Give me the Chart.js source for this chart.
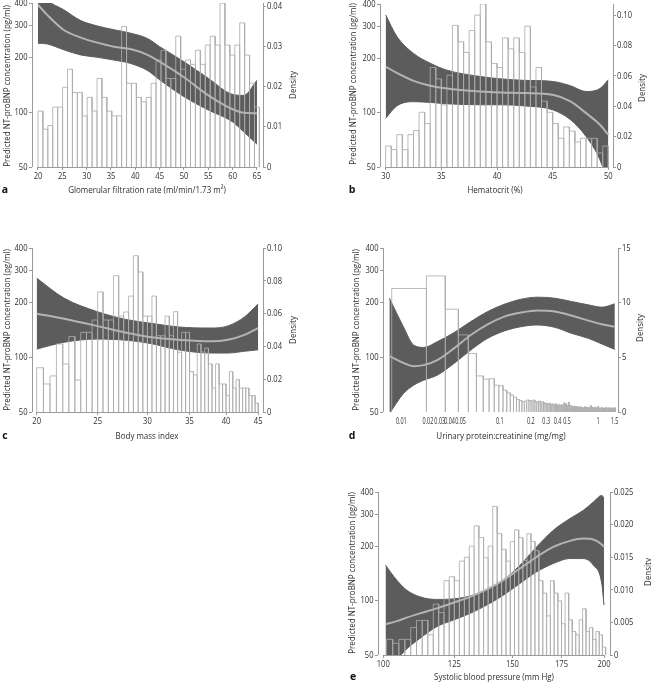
<!DOCTYPE html>
<html><head><meta charset="utf-8">
<script src="https://cdn.jsdelivr.net/npm/chart.js@4.4.1/dist/chart.umd.min.js"></script>
<style>
html,body{margin:0;padding:0;background:#fff;}
#wrap{position:relative;width:651px;height:684px;overflow:hidden;background:#fff;}
#wrap canvas{position:absolute;}
</style></head><body><div id="wrap"></div>
<script>
// ---------- shared tick data ----------
const leftTickValues = [50, 100, 200, 300, 400];
const leftTickLabels = ['50', '100', '200', '300', '400'];

// ---------- panel a: GFR ----------
const gfrX     = [20, 21.9, 25.3, 28.8, 32.2, 35.6, 39, 42.5, 45, 50, 55, 60, 62.3, 65];
const gfrFit   = [391, 344, 284, 258, 242, 230, 223, 207, 190, 156, 124, 104, 99.4, 98.7];
const gfrUpper = [480, 415, 367, 320, 299, 285, 273, 255, 230, 190, 154, 125.5, 124, 150];
const gfrLower = [240, 238, 221, 207, 201, 194, 186, 170, 151, 122, 103, 88.6, 78, 66.8];
const gfrBinStart = 20, gfrBinWidth = 1.011;
const gfrDensity = [0.0139,0.0094,0.0103,0.0149,0.0149,0.0198,0.0243,0.0185,0.0185,0.0127,
  0.0173,0.0139,0.0220,0.0173,0.0139,0.0127,0.0127,0.0349,0.0208,0.0208,
  0.0173,0.0162,0.0173,0.0208,0.0266,0.0290,0.0220,0.0220,0.0325,0.0243,
  0.0266,0.0255,0.0290,0.0255,0.0303,0.0325,0.0303,0.0407,0.0303,0.0278,
  0.0303,0.0358,0.0278,0.0208,0.0149];
const gfrTicks = [20, 25, 30, 35, 40, 45, 50, 55, 60, 65];
const gfrTickLabels = ['20','25','30','35','40','45','50','55','60','65'];
const gfrDensTicks = [0, 0.01, 0.02, 0.03, 0.04];
const gfrDensLabels = ['0', '0.01', '0.02', '0.03', '0.04'];

// ---------- panel b: hematocrit ----------
const hctX     = [30, 31, 32.5, 34, 35.5, 38.5, 40.3, 42.5, 45, 46.6, 48, 49.25, 50];
const hctFit   = [180, 166, 150, 141, 136, 131, 129.4, 128.5, 125.6, 115.4, 99.4, 85.7, 75.5];
const hctUpper = [348, 265, 213, 188, 172, 158.6, 154, 151, 149, 141, 131, 136, 152];
const hctLower = [93, 109, 115, 114, 112, 110.6, 110.6, 109, 103.7, 91.4, 73.8, 54.8, 40];
const hctBinStart = 30, hctBinWidth = 0.5;
const hctDensity = [0.0138,0.0114,0.0213,0.0114,0.0213,0.0240,0.0360,0.0286,0.0655,0.0580,
  0.0409,0.0604,0.0932,0.0824,0.0754,0.0899,0.1000,0.1073,0.0824,0.0681,
  0.0655,0.0850,0.0778,0.0850,0.0754,0.0927,0.0527,0.0655,0.0433,0.0360,
  0.0286,0.0189,0.0264,0.0237,0.0165,0.0189,0.0189,0.0189,0.0092,0.0138];
const hctTicks = [30, 35, 40, 45, 50];
const hctTickLabels = ['30','35','40','45','50'];
const hctDensTicks = [0, 0.02, 0.04, 0.06, 0.08, 0.10];
const hctDensLabels = ['0','0.02','0.04','0.06','0.08','0.10'];

// ---------- panel c: BMI ----------
const bmiX     = [20, 22.1, 24.9, 27.9, 30.4, 33.6, 37.9, 40.3, 42.8, 45];
const bmiFit   = [174, 163, 149, 136, 129, 125, 122.5, 125, 133, 145];
const bmiUpper = [273, 212, 179, 161, 154, 147, 145, 149, 167, 197];
const bmiLower = [111, 121, 126, 124, 119, 110, 105.6, 105.6, 108, 110];
const bmiBinStart = 20, bmiBinWidth = 0.5;
const bmiDensity = [0.0270,0.0171,0.0220,0.0415,0.0293,0.0461,0.0195,0.0486,0.0486,0.0561,
  0.0732,0.0561,0.0561,0.0831,0.0585,0.0610,0.0707,0.0953,0.0854,0.0585,
  0.0585,0.0707,0.0465,0.0465,0.0585,0.0465,0.0612,0.0364,0.0486,0.0486,
  0.0246,0.0226,0.0415,0.0366,0.0390,0.0293,0.0146,0.0293,0.0171,0.0171,
  0.0100,0.0246,0.0146,0.0197,0.0146,0.0146,0.0146,0.0100,0.0100,0.0055];
const bmiTicks = [20, 25, 30, 35, 40, 45];
const bmiTickLabels = ['20','25','30','35','40','45'];
const bmiDensTicks = [0, 0.02, 0.04, 0.06, 0.08, 0.10];
const bmiDensLabels = ['0','0.02','0.04','0.06','0.08','0.10'];

// ---------- panel d: urinary protein:creatinine ----------
const upcX     = [0.00757, 0.0105, 0.01334, 0.01689, 0.0232, 0.0343, 0.0508, 0.0754, 0.1113, 0.1651, 0.2446, 0.3624, 0.536, 0.795, 1.092, 1.477];
const upcFit   = [101.6, 93.3, 89.4, 90.6, 96.5, 112, 132.7, 152, 167.6, 176.4, 181, 178.7, 169.8, 159.3, 152, 147.6];
const upcUpper = [211.7, 147.6, 116.9, 113.4, 121.9, 136.7, 157.3, 178.7, 196, 209, 214.4, 211.7, 203, 194.5, 188.8, 197];
const upcLower = [49, 63.1, 70.2, 74.8, 79.8, 92.5, 109.7, 127.2, 139.7, 147.6, 150.7, 146.3, 135.6, 127.2, 118.4, 110.6];
const upcBinStart = 0.008, upcBinWidth = 0.01;
const upcDensity = [11.3,12.45,9.4,7.05,5.35,3.3,3.0,3.05,2.45,2.4,
  2.0,1.75,1.55,1.35,1.15,1.05,0.95,1.0,1.1,1.05,
  1.0,1.1,0.95,0.9,1.0,0.8,0.95,0.85,0.75,0.8,
  0.7,0.8,0.65,0.75,0.7,0.6,0.75,0.65,0.55,0.7,
  0.6,0.65,0.55,0.7,0.85,0.6,0.75,0.5,0.6,0.9,
  0.55,0.5,0.6,0.45,0.5,0.4,0.55,0.45,0.5,0.35,
  0.45,0.5,0.4,0.35,0.45,0.55,0.4,0.3,0.45,0.4,
  0.35,0.4,0.5,0.3,0.4,0.35,0.45,0.3,0.4,0.35,
  0.45,0.3,0.35,0.6,0.35,0.4,0.3,0.45,0.35,0.3,
  0.4,0.35,0.45,0.3,0.35,0.4,0.3,0.35,0.5,0.4,
  0.3,0.35,0.4,0.25,0.35,0.3,0.4,0.3,0.35,0.45,
  0.3,0.25,0.35,0.3,0.4,0.3,0.35,0.25,0.3,0.4,
  0.35,0.3,0.25,0.35,0.3,0.4,0.3,0.25,0.35,0.3,
  0.3,0.35,0.25,0.3,0.4,0.3,0.35,0.25,0.3,0.35,
  0.3,0.25,0.35,0.3,0.4,0.3,0.25,0.35,0.3,0.4];
const upcTicks = [0.01, 0.02, 0.03, 0.04, 0.05, 0.1, 0.2, 0.3, 0.4, 0.5, 1, 1.5];
const upcTickLabels = ['0.01','0.02','0.03','0.04','0.05','0.1','0.2','0.3','0.4','0.5','1','1.5'];
const upcDensTicks = [0, 5, 10, 15];
const upcDensLabels = ['0','5','10','15'];

// ---------- panel e: systolic blood pressure ----------
const sbpX     = [100.7, 104.3, 107.6, 112.2, 118.2, 124.6, 131.3, 138.4, 145.8, 153.6, 161.9, 170.6, 179.7, 187.5, 193.4, 198.6, 200];
const sbpFit   = [73.9, 77, 80.5, 85, 90.6, 97.4, 105, 115.4, 130, 150.7, 175, 198.7, 214.5, 220.9, 218, 205, 198.7];
const sbpUpper = [157.3, 130, 114.4, 105, 101.6, 102.3, 106, 114.4, 130, 157.3, 198.7, 245.6, 285, 317, 352, 383, 370];
const sbpLower = [40, 47, 54, 61.8, 71.7, 78.1, 85, 94.5, 107.3, 124.6, 144.5, 160.7, 171.2, 171, 157.3, 124.6, 94.5];
const sbpBinStart = 101, sbpBinWidth = 2;
const sbpDensity = [0.0024,0.0018,0.0024,0.0024,0.0042,0.0053,0.0053,0.0031,0.0078,0.0065,
  0.0114,0.0120,0.0114,0.0144,0.0150,0.0167,0.0198,0.0180,0.0149,0.0167,
  0.0228,0.0186,0.0162,0.0144,0.0174,0.0192,0.0180,0.0145,0.0186,0.0174,
  0.0160,0.0114,0.0095,0.0060,0.0114,0.0095,0.0083,0.0048,0.0095,0.0054,
  0.0036,0.0031,0.0054,0.0071,0.0036,0.0042,0.0024,0.0036,0.0031,0.0012];
const sbpTicks = [100, 125, 150, 175, 200];
const sbpTickLabels = ['100','125','150','175','200'];
const sbpDensTicks = [0, 0.005, 0.010, 0.015, 0.020, 0.025];
const sbpDensLabels = ['0','0.005','0.010','0.015','0.020','0.025'];

// ---------- styling ----------
const FONT = '"Open Sans", "Noto Sans", sans-serif';
const TEXT = '#2e2e2e';
const AXIS = '#9a9a9a';
const BAND = '#5c5c5c';
const FITC = '#b4b4b4';
const HIST = 'rgba(172,172,172,0.82)';
const YTITLE = 'Predicted NT-proBNP concentration (pg/ml)';
const TITLE_SIZE = 9.5, TITLE_SQUEEZE = 0.84;
const TICK_SIZE = 9.5, TICK_SQUEEZE = 0.8;

function uniformEdges(start, width, n) {
  const e = [];
  for (let i = 0; i <= n; i++) e.push(start + i * width);
  return e;
}
function outline(edges, dens) {
  const pts = [];
  for (let i = 0; i < dens.length; i++) {
    pts.push({x: edges[i], y: 0}, {x: edges[i], y: dens[i]},
             {x: edges[i + 1], y: dens[i]}, {x: edges[i + 1], y: 0});
  }
  return pts;
}
function xy(xs, ys) { return xs.map((x, i) => ({x: x, y: ys[i]})); }
function alignPx(p) { return Math.round(p - 0.5) + 0.5; }

function squeezedText(ctx, str, x, y, o) {
  ctx.save();
  ctx.font = (o.bold ? 'bold ' : '') + o.size + 'px ' + FONT;
  ctx.fillStyle = o.color || TEXT;
  ctx.textAlign = o.align || 'center';
  ctx.textBaseline = 'middle';
  ctx.translate(x, y);
  if (o.rot) ctx.rotate(-Math.PI / 2);
  ctx.scale(o.squeeze || 1, 1);
  ctx.fillText(str, 0, 0);
  ctx.restore();
}

const decor = {
  id: 'decor',
  afterDraw(chart) {
    const p = chart.options.plugins.decor;
    const ctx = chart.ctx, a = chart.chartArea;
    const sx = chart.scales.x, sy = chart.scales.y, s2 = chart.scales.y2;
    ctx.save();
    ctx.strokeStyle = AXIS; ctx.lineWidth = 1;
    ctx.beginPath();
    const lx = alignPx(a.left), rx = alignPx(a.right), by = alignPx(a.bottom);
    ctx.moveTo(lx, sy.getPixelForValue(sy.min)); ctx.lineTo(lx, sy.getPixelForValue(sy.max));
    ctx.moveTo(rx, s2.getPixelForValue(s2.min)); ctx.lineTo(rx, s2.getPixelForValue(s2.max));
    if (p.xLine) {
      const t = sx.ticks;
      ctx.moveTo(sx.getPixelForValue(t[0].value) - 0.5, by);
      ctx.lineTo(sx.getPixelForValue(t[t.length - 1].value) + 0.5, by);
    }
    ctx.stroke();
    ctx.restore();
    // tick labels, positioned through the chart's scales
    leftTickValues.forEach((v, i) => squeezedText(ctx, leftTickLabels[i], a.left - 4.5, sy.getPixelForValue(v),
      {size: TICK_SIZE, squeeze: TICK_SQUEEZE, align: 'right'}));
    p.y2Ticks.forEach((v, i) => squeezedText(ctx, p.y2Labels[i], a.right + 4, s2.getPixelForValue(v),
      {size: TICK_SIZE, squeeze: TICK_SQUEEZE, align: 'left'}));
    p.xTicks.forEach((v, i) => squeezedText(ctx, p.xLabels[i], sx.getPixelForValue(v) + (p.xNudge ? p.xNudge[i] : 0),
      a.bottom + 9.5, {size: p.xTickSize || TICK_SIZE, squeeze: p.xTickSqueeze || TICK_SQUEEZE}));
    // titles and panel letter
    p.texts.forEach(t => squeezedText(ctx, t.t, t.x, t.y,
      t.bold ? {size: 10.5, bold: true, color: '#111', align: 'center'}
             : {size: TITLE_SIZE, squeeze: TITLE_SQUEEZE, rot: t.rot}));
  }
};

function makePanel(c) {
  const cv = document.createElement('canvas');
  cv.width = c.w; cv.height = c.h;
  cv.style.left = c.left + 'px'; cv.style.top = c.top + 'px';
  cv.style.width = c.w + 'px'; cv.style.height = c.h + 'px';
  document.getElementById('wrap').appendChild(cv);
  const A = c.area;
  const fix = (w, h) => s => {
    if (w !== null) s.width = w;
    if (h !== null) s.height = h;
    s.paddingTop = 0; s.paddingBottom = 0; s.paddingLeft = 0; s.paddingRight = 0;
  };
  const setTicks = vals => s => { s.ticks = vals.map(v => ({value: v})); };
  const grid = {drawOnChartArea: false, drawTicks: true, tickLength: 3, color: AXIS, lineWidth: 1};
  const noLabels = {display: false, autoSkip: false};
  const edges = uniformEdges(c.binStart, c.binWidth, c.density.length);
  new Chart(cv, {
    type: 'line',
    data: {
      datasets: [
        {label: 'fit', data: xy(c.cx, c.fit), yAxisID: 'y', borderColor: FITC, borderWidth: 2,
         pointRadius: 0, fill: false, cubicInterpolationMode: 'monotone', order: 0},
        {label: 'hist', data: outline(edges, c.density), yAxisID: 'y2', borderColor: HIST, borderWidth: 1,
         pointRadius: 0, fill: false, tension: 0, order: 1, borderJoinStyle: 'miter'},
        {label: 'upper', data: xy(c.cx, c.upper), yAxisID: 'y', borderColor: BAND, borderWidth: 1,
         backgroundColor: BAND, pointRadius: 0, fill: '+1', cubicInterpolationMode: 'monotone', order: 2},
        {label: 'lower', data: xy(c.cx, c.lower), yAxisID: 'y', borderColor: BAND, borderWidth: 1,
         pointRadius: 0, fill: false, cubicInterpolationMode: 'monotone', order: 3}
      ]
    },
    options: {
      responsive: false, maintainAspectRatio: false, animation: false,
      layout: {autoPadding: false, padding: {top: A.top, left: 0, right: 0, bottom: 0}},
      plugins: {legend: {display: false}, tooltip: {enabled: false},
                decor: {xLine: c.xLine, texts: c.texts, xTicks: c.xTicks, xLabels: c.xLabels,
                        xNudge: c.xNudge || null, xTickSize: c.xTickSize, xTickSqueeze: c.xTickSqueeze,
                        y2Ticks: c.y2Ticks, y2Labels: c.y2Labels}},
      scales: {
        x: {type: c.xType, position: 'bottom', min: c.xMin, max: c.xMax,
            afterBuildTicks: setTicks(c.xTicks), afterFit: fix(null, c.h - A.bottom),
            ticks: noLabels, grid: Object.assign({display: c.xLine}, grid), border: {display: false}},
        y: {type: 'logarithmic', position: 'left', min: 50, max: 400,
            afterBuildTicks: setTicks(leftTickValues), afterFit: fix(A.left, null),
            ticks: noLabels, grid: grid, border: {display: false}},
        y2: {type: 'linear', position: 'right', min: 0, max: c.y2Max,
             afterBuildTicks: setTicks(c.y2Ticks), afterFit: fix(c.w - A.right, null),
             ticks: noLabels, grid: grid, border: {display: false}}
      }
    },
    plugins: [decor]
  });
}

makePanel({left: 0, top: 0, w: 320, h: 200, area: {left: 32, right: 263, top: 3, bottom: 167},
  xType: 'linear', xMin: 18.77, xMax: 66.24, xTicks: gfrTicks, xLabels: gfrTickLabels, xLine: true,
  y2Max: 0.04075, y2Ticks: gfrDensTicks, y2Labels: gfrDensLabels,
  cx: gfrX, fit: gfrFit, upper: gfrUpper, lower: gfrLower,
  binStart: gfrBinStart, binWidth: gfrBinWidth, density: gfrDensity,
  texts: [{t: YTITLE, x: 7, y: 86, rot: true}, {t: 'Density', x: 293, y: 85, rot: true},
          {t: 'Glomerular filtration rate (ml/min/1.73 m²)', x: 147, y: 190}, {t: 'a', x: 5, y: 190, bold: true}]});

makePanel({left: 320, top: 0, w: 331, h: 200, area: {left: 60, right: 293, top: 4, bottom: 167},
  xType: 'linear', xMin: 29.49, xMax: 50.42, xTicks: hctTicks, xLabels: hctTickLabels, xLine: true,
  y2Max: 0.1073, y2Ticks: hctDensTicks, y2Labels: hctDensLabels,
  cx: hctX, fit: hctFit, upper: hctUpper, lower: hctLower,
  binStart: hctBinStart, binWidth: hctBinWidth, density: hctDensity,
  texts: [{t: YTITLE, x: 33, y: 84, rot: true}, {t: 'Density', x: 322, y: 88, rot: true},
          {t: 'Hematocrit (%)', x: 175, y: 190}, {t: 'b', x: 32, y: 190, bold: true}]});

makePanel({left: 0, top: 220, w: 320, h: 225, area: {left: 32, right: 263, top: 28, bottom: 192},
  xType: 'logarithmic', xMin: 19.66, xMax: 45.8, xTicks: bmiTicks, xLabels: bmiTickLabels, xLine: true,
  y2Max: 0.10, y2Ticks: bmiDensTicks, y2Labels: bmiDensLabels,
  cx: bmiX, fit: bmiFit, upper: bmiUpper, lower: bmiLower,
  binStart: bmiBinStart, binWidth: bmiBinWidth, density: bmiDensity,
  texts: [{t: YTITLE, x: 7, y: 110, rot: true}, {t: 'Density', x: 293, y: 110, rot: true},
          {t: 'Body mass index', x: 147, y: 216}, {t: 'c', x: 5, y: 216, bold: true}]});

makePanel({left: 320, top: 220, w: 331, h: 225, area: {left: 63, right: 298, top: 28, bottom: 192},
  xType: 'logarithmic', xMin: 0.00652, xMax: 1.591, xTicks: upcTicks, xLabels: upcTickLabels, xLine: false,
  xNudge: [0, -3, -8.5, -11, -9.5, 0, 1.5, -0.5, -1.5, -1.5, 0, -1], xTickSize: 8.5, xTickSqueeze: 0.64,
  y2Max: 15, y2Ticks: upcDensTicks, y2Labels: upcDensLabels,
  cx: upcX, fit: upcFit, upper: upcUpper, lower: upcLower,
  binStart: upcBinStart, binWidth: upcBinWidth, density: upcDensity,
  texts: [{t: YTITLE, x: 36, y: 110, rot: true}, {t: 'Density', x: 320, y: 108, rot: true},
          {t: 'Urinary protein:creatinine (mg/mg)', x: 181, y: 216}, {t: 'd', x: 32, y: 216, bold: true}]});

makePanel({left: 320, top: 450, w: 331, h: 234, area: {left: 58, right: 290, top: 42, bottom: 205},
  xType: 'logarithmic', xMin: 98.35, xMax: 203.8, xTicks: sbpTicks, xLabels: sbpTickLabels, xLine: true,
  y2Max: 0.025, y2Ticks: sbpDensTicks, y2Labels: sbpDensLabels,
  cx: sbpX, fit: sbpFit, upper: sbpUpper, lower: sbpLower,
  binStart: sbpBinStart, binWidth: sbpBinWidth, density: sbpDensity,
  texts: [{t: YTITLE, x: 32, y: 123, rot: true}, {t: 'Density', x: 328, y: 122, rot: true},
          {t: 'Systolic blood pressure (mm Hg)', x: 174, y: 227}, {t: 'e', x: 33, y: 227, bold: true}]});
</script>
</body></html>
